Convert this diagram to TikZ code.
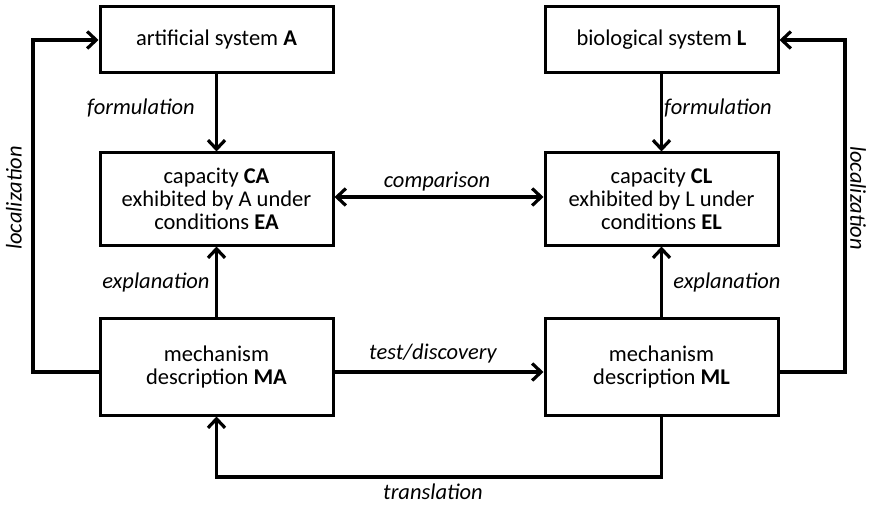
\documentclass[tikz,border=0pt]{standalone}
\usepackage{fontspec}
\setmainfont{Carlito}
\usetikzlibrary{arrows.meta}
\begin{document}
\begin{tikzpicture}[x=1pt,y=-1pt,
  box/.style={draw,line width=3pt,minimum width=233pt,align=center,font=\fontsize{22.5}{23}\selectfont,inner sep=0pt},
  tip/.tip={Straight Barb[length=9pt,width=17pt,line width=3.2pt]},
  conn/.style={line width=3.6pt,-tip},
  both/.style={line width=3.6pt,tip-tip},
  lab/.style={font=\itshape\fontsize{22.5}{23}\selectfont}]
\useasboundingbox (0,0) rectangle (870,505);
\node[box,minimum height=66pt] (A) at (216.5,40) {artificial system \textbf{A}};
\node[box,minimum height=66pt] (L) at (661.5,40) {biological system \textbf{L}};
\node[box,minimum height=92pt] (CA) at (216.5,199) {capacity \textbf{CA}\\exhibited by A under\\conditions \textbf{EA}};
\node[box,minimum height=92pt] (CL) at (661.5,199) {capacity \textbf{CL}\\exhibited by L under\\conditions \textbf{EL}};
\node[box,minimum height=97pt] (MA) at (216.5,366.5) {mechanism\\description \textbf{MA}};
\node[box,minimum height=97pt] (ML) at (661.5,366.5) {mechanism\\description \textbf{ML}};
\coordinate (lx) at (33,0);
\coordinate (rx) at (845,0);
\coordinate (by) at (0,477);
\draw[conn] (A) -- (CA);
\draw[conn] (L) -- (CL);
\draw[conn] (MA) -- (CA);
\draw[conn] (ML) -- (CL);
\draw[both] (CA.east |- 0,197) -- (CL.west |- 0,197);
\draw[conn] (MA.east |- 0,372) -- (ML.west |- 0,372);
\draw[conn] (MA.west |- 0,372) -| (lx |- A) -- (A.west);
\draw[conn] (ML.east |- 0,372) -| (rx |- L) -- (L.east);
\draw[conn] (ML.south) -- (ML.south |- by) -| (MA.south);
\node[lab] (f1) at (141,108) {formulation};
\node[lab] (f2) at (718,108) {formulation};
\node[lab] (e1) at (156,283) {explanation};
\node[lab] (e2) at (727,283) {explanation};
\node[lab] (c) at (437,182) {comparison};
\node[lab] (t) at (433,354) {test/discovery};
\node[lab] (tr) at (433,492) {translation};
\node[lab,rotate=90] (l1) at (14,198) {localization};
\node[lab,rotate=-90] (l2) at (858,198) {localization};
\end{tikzpicture}
\end{document}
